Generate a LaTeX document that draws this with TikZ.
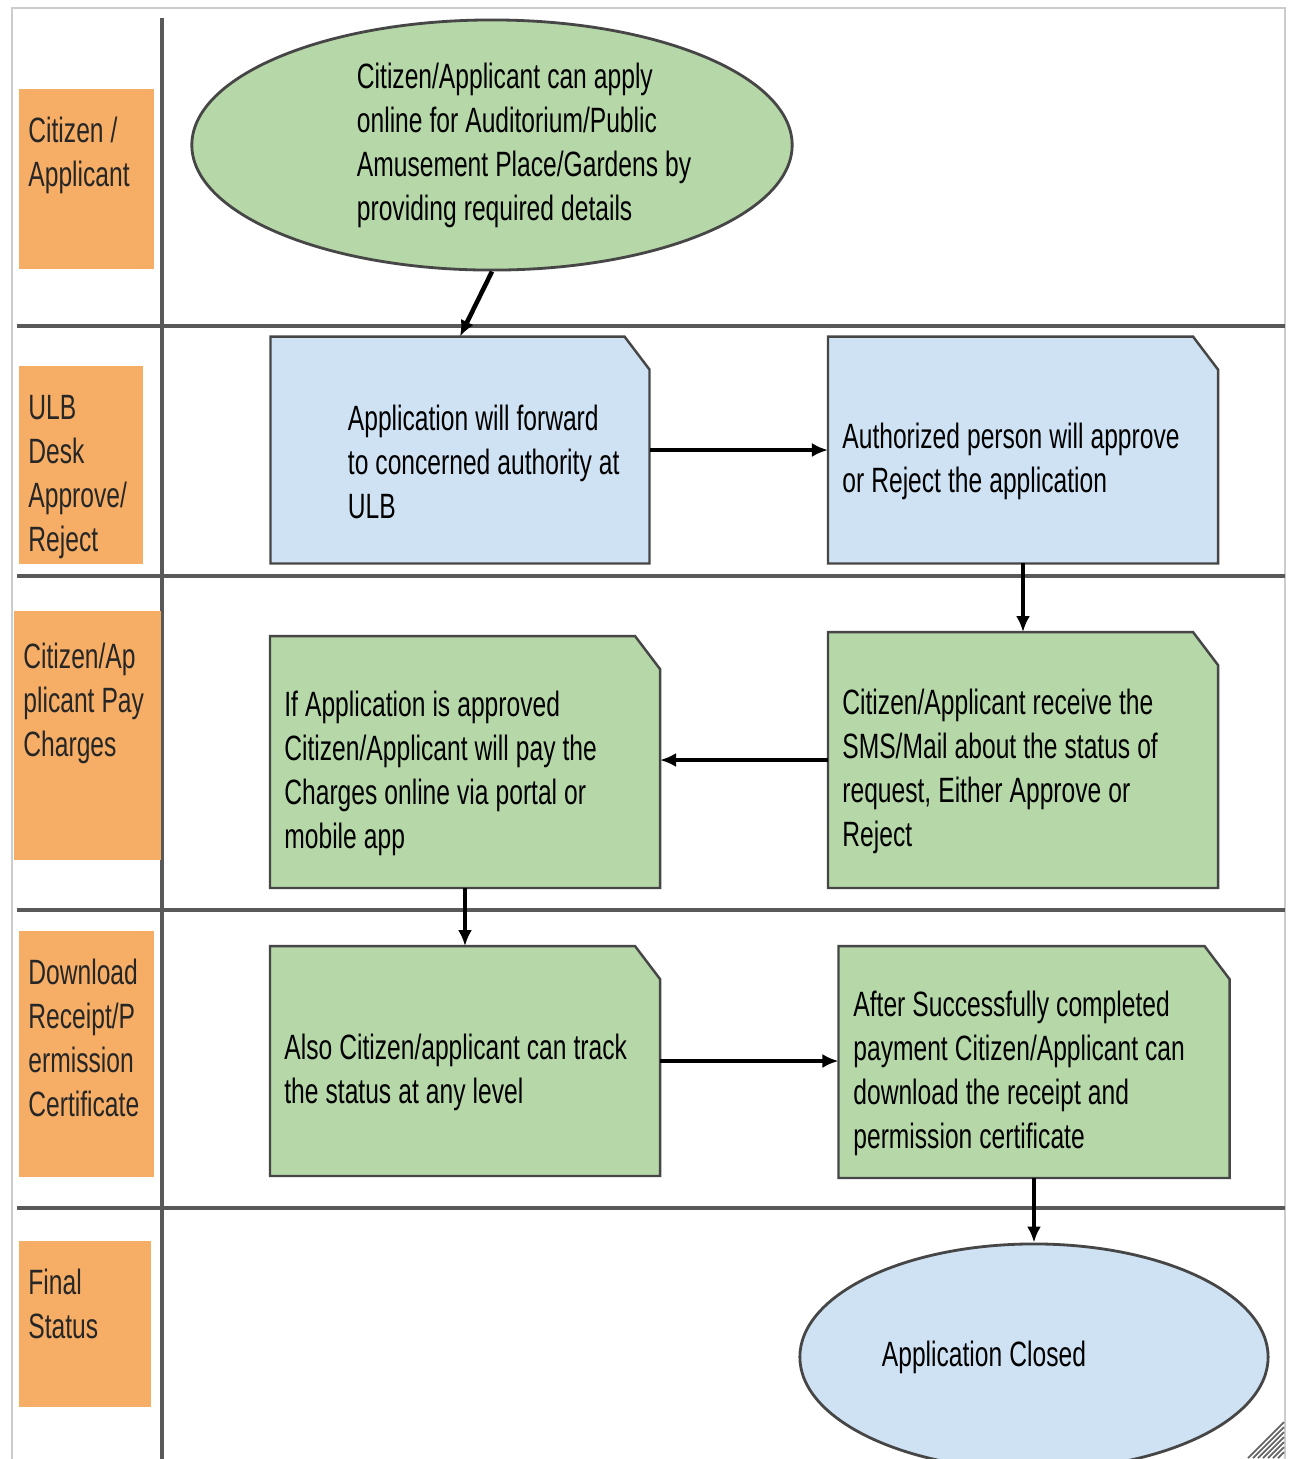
\documentclass[tikz,border=0pt]{standalone}
\usepackage{fontspec}
\setmainfont{Liberation Sans}[FakeStretch=0.70,WordSpace=0.7]
\usetikzlibrary{arrows.meta,shapes.geometric,backgrounds,positioning}

\definecolor{laneorange}{RGB}{246,174,102}
\definecolor{boxgreen}{RGB}{182,215,168}
\definecolor{boxblue}{RGB}{207,226,243}
\definecolor{edgegray}{RGB}{70,70,70}

\tikzset{
  lane/.style={fill=laneorange,anchor=north west,align=left,inner xsep=0.09cm,
    inner ysep=0pt,text height=0.53cm,text=black!85},
  note/.style={rectangle,align=left,inner xsep=0.13cm,inner ysep=0pt,
    minimum width=3.87cm,text width=3.61cm,text height=0.49cm},
  noteframe/.style={draw=edgegray,line width=0.7pt},
  oval/.style={ellipse,draw=edgegray,line width=0.8pt},
  flow/.style={-{Latex[length=0.16cm,width=0.14cm]},line width=1.3pt},
  sep/.style={draw=black!65,line width=1pt}
}

\begin{document}
\begin{tikzpicture}[thick,x=0.01cm,y=-0.01cm,font=\fontsize{10pt}{12.5pt}\selectfont,
  execute at begin node={\spaceskip=0.2em\relax}]
\useasboundingbox (0,0) rectangle (1289,1459);
\draw[black!20] (12,8) rectangle (1285,1480);

\draw[sep] (162,18)--(162,1459);
\foreach \y in {326,576,910,1208}
  \draw[sep] (17,\y)--(1285,\y);

\node[lane,text width=1.17cm,text depth=1.26cm] (citizen) at (18,88) {Citizen /\\Applicant};
\node[lane,text width=1.06cm,text depth=1.44cm] (desk) at (18,365) {ULB\\Desk\\Approve/\\Reject};
\node[lane,text width=1.29cm,text height=0.57cm,text depth=1.91cm] (charges) at (13,610) {Citizen/Ap\\plicant Pay\\Charges};
\node[lane,text width=1.17cm,text depth=1.92cm] (receipt) at (18,930) {Download\\Receipt/P\\ermission\\Certificate};
\node[lane,text width=1.14cm,text depth=1.12cm] (final) at (18,1240) {Final\\Status};

\node[oval,fill=boxgreen,minimum width=6cm,minimum height=2.5cm,inner sep=0pt,
  text width=4.2cm,align=left] (apply) at (492,145)
  {\leftskip=0.75cm Citizen/Applicant can apply\\online for Auditorium/Public\\Amusement Place/Gardens by\\providing required details\par};

\node[note,minimum width=3.76cm,text width=3.5cm,minimum height=2.24cm] (fwd) at (460,450)
  {\leftskip=0.63cm Application will forward\\to concerned authority at\\ULB\par};
\node[note,minimum height=2.24cm] (appr) at (1023,450)
  {Authorized person will approve\\or Reject the application};
\node[note,minimum height=2.53cm] (sms) at (1023,760)
  {Citizen/Applicant receive the\\SMS/Mail about the status of\\request, Either Approve or\\Reject};
\node[note,minimum height=2.49cm] (pay) at (465,762)
  {If Application is approved\\Citizen/Applicant will pay the\\Charges online via portal or\\mobile app};
\node[note,minimum height=2.27cm] (track) at (465,1061)
  {Also Citizen/applicant can track\\the status at any level};
\node[note,minimum width=3.88cm,minimum height=2.29cm] (dl) at (1034,1062)
  {After Successfully completed\\payment Citizen/Applicant can\\download the receipt and\\permission certificate};

\node[oval,fill=boxblue,minimum width=4.68cm,minimum height=2.26cm] (closed) at (1034,1357)
  {Application Closed\hspace*{1cm}};

\begin{scope}[on background layer]
\fill[white] (0,0) rectangle (1289,1459);
\foreach \b/\c in {fwd/boxblue,appr/boxblue,sms/boxgreen,pay/boxgreen,track/boxgreen,dl/boxgreen}
  \filldraw[noteframe,fill=\c] (\b.south west)--(\b.north west)--([xshift=-0.25cm]\b.north east)
    --([yshift=-0.33cm]\b.north east)--(\b.south east)--cycle;
\end{scope}

\draw[flow] (apply.south)--(fwd.north);
\draw[flow] (fwd.east)--(appr.west);
\draw[flow] (appr.south)--(sms.north);
\draw[flow] (sms.west)--(sms.west-|pay.east);
\draw[flow] (pay.south)--(track.north);
\draw[flow] (track.east)--(track.east-|dl.west);
\draw[flow] (dl.south)--(closed.north);

\foreach \d in {6,11,...,36}
  \draw[black!60,line width=0.5pt] (1284-\d,1458)--(1284,1458-\d);

\end{tikzpicture}
\end{document}
